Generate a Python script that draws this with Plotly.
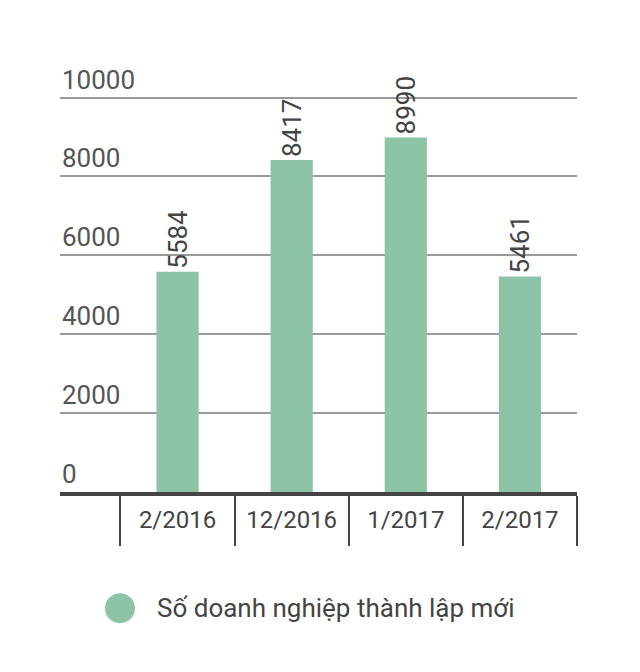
import plotly.graph_objects as go

# Data
categories = ["2/2016", "12/2016", "1/2017", "2/2017"]
values = [5584, 8417, 8990, 5461]
series_name = "Số doanh nghiệp thành lập mới"
y_ticks = [0, 2000, 4000, 6000, 8000, 10000]

bar_color = "#8dc3a7"
text_color = "#444444"
font_family = "Roboto"

fig = go.Figure()
fig.add_trace(go.Bar(
    x=categories, y=values, name=series_name,
    marker=dict(color=bar_color, line=dict(width=0)),
    width=0.37,
    text=[str(v) for v in values], textposition="outside",
    textangle=-90, cliponaxis=False, constraintext="none",
    textfont=dict(family=font_family, size=26, color=text_color),
    showlegend=False,
))

# y range goes a bit past 10000 so the top gridline is drawn
y_top = 10800
plot_h = 394 * y_top / 10000
legend_y = -116 / plot_h

# y tick labels sit above their gridlines, left aligned
for v in y_ticks:
    fig.add_annotation(xref="paper", yref="y", x=0, y=v,
                       xanchor="left", yanchor="bottom", yshift=1,
                       text=str(v), showarrow=False,
                       font=dict(size=26, color="#555555", family=font_family))

# Legend drawn by hand so the marker can be a big circle
fig.add_shape(type="circle", xref="paper", yref="paper",
              xsizemode="pixel", ysizemode="pixel",
              xanchor=0.116, yanchor=legend_y,
              x0=-15, x1=15, y0=-15, y1=15,
              fillcolor=bar_color, line=dict(width=0))
fig.add_annotation(xref="paper", yref="paper", x=0.184, y=legend_y,
                   xanchor="left", yanchor="middle",
                   text=series_name, showarrow=False,
                   font=dict(size=26, color=text_color, family=font_family))

# page body has an 8px margin, so margins are trimmed to compensate
fig.update_layout(
    width=640, height=672,
    margin=dict(l=52, r=71, t=672 - 188 - plot_h, b=188),
    plot_bgcolor="white", paper_bgcolor="white",
    font=dict(family=font_family, color="#555555"),
)
fig.update_xaxes(
    type="category", range=[-1.03, 3.5],
    tickson="boundaries", ticks="outside", ticklen=50, tickwidth=2,
    tickcolor=text_color, ticklabelstandoff=3,
    tickfont=dict(size=24, color=text_color),
    showline=True, linecolor=text_color, linewidth=4,
    showgrid=False, zeroline=False,
)
fig.update_yaxes(
    range=[0, y_top], tickvals=y_ticks, showticklabels=False,
    ticks="",
    showgrid=True, gridcolor="#9a9a9a", gridwidth=2,
    zeroline=False, showline=False,
)

fig.write_html("out.html")
